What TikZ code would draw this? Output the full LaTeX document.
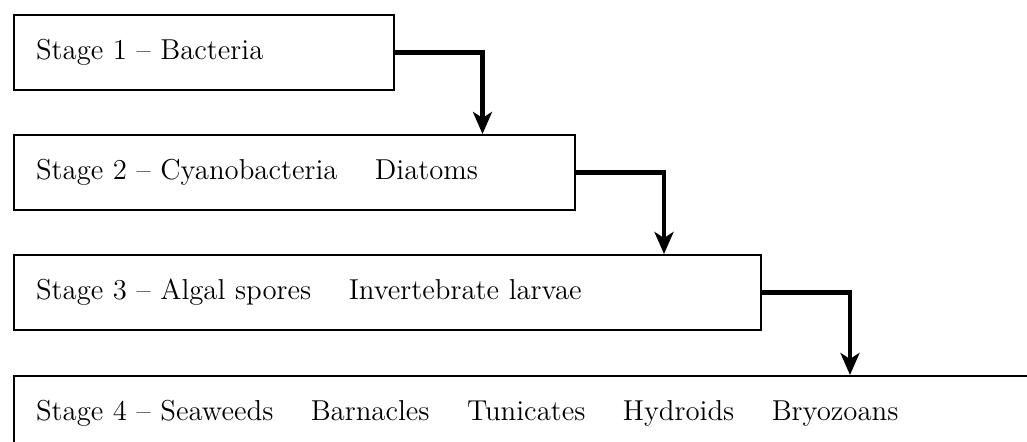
\documentclass[tikz,border=0pt]{standalone}
\usepackage{tikz}
\usetikzlibrary{positioning, arrows.meta}
\tikzstyle{stage} = [draw, line width=1pt, anchor=north west, minimum height=37.5pt, inner xsep=11pt, align=left, font=\fontsize{14.4pt}{17pt}\selectfont]
\tikzstyle{arrow} = [line width=2.2pt, -{Stealth[length=11pt, width=9.5pt, inset=3pt]}]
\newcommand{\gap}{\hspace{1.3em}}

\begin{document}
\begin{tikzpicture}[x=0.5pt, y=-0.5pt]
		\useasboundingbox (0,0) rectangle (1027,442);
		\clip (0,0) rectangle (1027,442);

		% the four stages, each one wider than the last
		\node[stage, text width=168pt] (b1) at (13,14) {Stage 1 -- Bacteria};
		\node[stage, text width=258.5pt, below=21.5pt of b1.south west, anchor=north west] (b2)
			{Stage 2 -- Cyanobacteria\gap Diatoms};
		\node[stage, text width=351.5pt, below=21.5pt of b2.south west, anchor=north west] (b3)
			{Stage 3 -- Algal spores\gap Invertebrate larvae};
		\node[stage, text width=528pt, below=22pt of b3.south west, anchor=north west] (b4)
			{Stage 4 -- Seaweeds\gap Barnacles\gap Tunicates\gap Hydroids\gap Bryozoans};

		% elbow arrows from one stage to the next
		\draw[arrow] (b1.east) -- ++(87.5,0) coordinate (k1) -- (k1 |- b2.north);
		\draw[arrow] (b2.east) -- ++(88,0) coordinate (k2) -- (k2 |- b3.north);
		\draw[arrow] (b3.east) -- ++(88,0) coordinate (k3) -- (k3 |- b4.north);
	\end{tikzpicture}
\end{document}
